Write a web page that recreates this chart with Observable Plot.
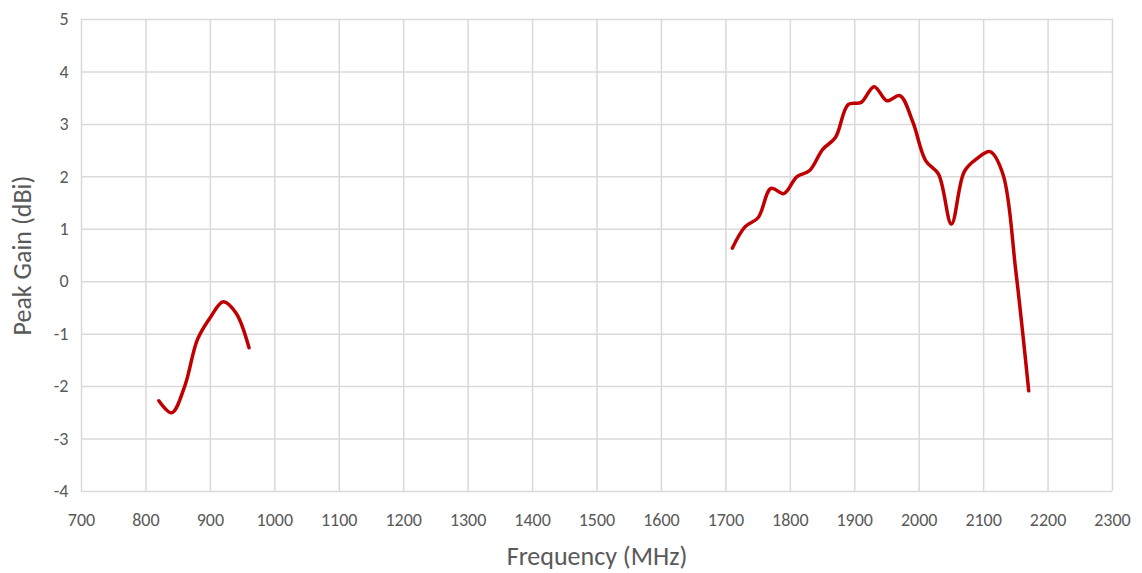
<!DOCTYPE html>
<html>
<head>
<meta charset="utf-8">
<script src="https://cdn.jsdelivr.net/npm/d3@7"></script>
<script src="https://cdn.jsdelivr.net/npm/@observablehq/plot@0.6"></script>
<style>
  html, body { margin: 0; padding: 0; background: #fff; }
  #chart { width: 1142px; height: 573px; }
</style>
</head>
<body>
<div id="chart"></div>
<script>
const freqLow  = [820, 840, 860, 880, 900, 920, 940, 960];
const gainLow  = [-2.27, -2.5, -2.0, -1.1, -0.68, -0.38, -0.6, -1.26];
const freqHigh = [1710, 1730, 1750, 1770, 1790, 1810, 1830, 1850, 1870, 1890, 1910, 1930, 1950, 1970, 1990, 2010, 2030, 2050, 2070, 2090, 2110, 2130, 2150, 2170];
const gainHigh = [0.64, 1.05, 1.22, 1.78, 1.68, 2.0, 2.12, 2.52, 2.75, 3.38, 3.42, 3.72, 3.45, 3.55, 3.05, 2.31, 2.05, 1.1, 2.1, 2.35, 2.48, 2.05, 0.2, -2.08];
const xTicks = d3.range(700, 2301, 100);
const yTicks = d3.range(-4, 6, 1);

const data = [
  ...freqLow.map((f, i) => ({freq: f, gain: gainLow[i], band: "low"})),
  ...freqHigh.map((f, i) => ({freq: f, gain: gainHigh[i], band: "high"}))
];

const grid = "#d9d9d9";
const textColor = "#595959";
const font = "Calibri, Carlito, Lato, sans-serif";
const fmt = d => String(d);

const chart = Plot.plot({
  width: 1142,
  height: 573,
  marginLeft: 81,
  marginRight: 30,
  marginTop: 19,
  marginBottom: 82,
  style: {fontFamily: font, fontSize: "18px", color: textColor, background: "#fff"},
  x: {domain: [700, 2300], ticks: xTicks, tickSize: 0, tickPadding: 22, label: null, tickFormat: fmt},
  y: {domain: [-4, 5], ticks: yTicks, tickSize: 0, tickPadding: 13, label: null, tickFormat: fmt},
  marks: [
    Plot.gridX(xTicks, {stroke: grid, strokeOpacity: 1, strokeWidth: 1.5}),
    Plot.gridY(yTicks, {stroke: grid, strokeOpacity: 1, strokeWidth: 1.5}),
    Plot.axisX({ticks: xTicks, tickSize: 0, tickPadding: 22, fill: textColor, fontSize: 18, label: null, tickFormat: fmt}),
    Plot.axisY({ticks: yTicks, tickSize: 0, tickPadding: 13, fill: textColor, fontSize: 18, label: null, tickFormat: fmt}),
    Plot.text(["Frequency (MHz)"], {frameAnchor: "bottom", dy: 65, lineAnchor: "middle", fill: textColor, fontSize: 26}),
    Plot.text(["Peak Gain (dBi)"], {frameAnchor: "left", dx: -59, rotate: -90, textAnchor: "middle", lineAnchor: "middle", fill: textColor, fontSize: 26}),
    Plot.line(data, {x: "freq", y: "gain", z: "band", stroke: "#c00000", strokeWidth: 3.5, curve: "catmull-rom"})
  ]
});
document.getElementById("chart").appendChild(chart);
</script>
</body>
</html>
